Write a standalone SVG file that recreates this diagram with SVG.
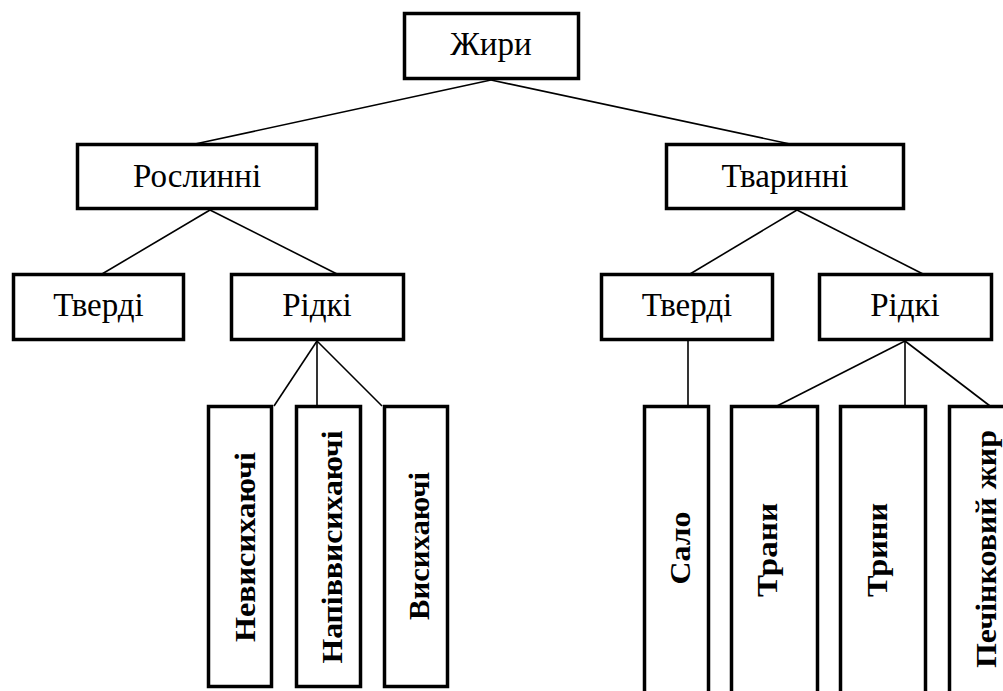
<svg xmlns="http://www.w3.org/2000/svg" width="1003" height="691" viewBox="0 0 1003 691">
<style>
.box{fill:#fff;stroke:#000;stroke-width:3.5}
.lbl{font-size:33px;fill:#000;text-anchor:middle}
.vl{font-size:30px;font-weight:bold;fill:#000;text-anchor:middle}
#connectors line{stroke:#000;stroke-width:1.6}
</style>
<rect width="1003" height="691" fill="#fff"/>
<g id="connectors">
<line x1="491" y1="80" x2="195" y2="144"/>
<line x1="491" y1="80" x2="790" y2="144"/>
<line x1="210" y1="210" x2="102" y2="274"/>
<line x1="210" y1="210" x2="337" y2="274"/>
<line x1="797" y1="210" x2="690" y2="274"/>
<line x1="797" y1="210" x2="923" y2="274"/>
<line x1="317" y1="341" x2="274" y2="406"/>
<line x1="317" y1="341" x2="317" y2="406"/>
<line x1="317" y1="341" x2="382" y2="406"/>
<line x1="688" y1="341" x2="688" y2="406"/>
<line x1="905" y1="341" x2="777" y2="406"/>
<line x1="905" y1="341" x2="905" y2="406"/>
<line x1="905" y1="341" x2="990" y2="406"/>
</g>
<g font-family="Liberation Serif, DejaVu Serif, serif">
<g id="zhyry"><rect class="box" x="404.5" y="13.5" width="174" height="65"/><text class="lbl" x="491" y="55">Жири</text></g>
<g id="roslynni"><rect class="box" x="77.5" y="144.5" width="239" height="64"/><text class="lbl" x="197" y="187">Рослинні</text></g>
<g id="tvarynni"><rect class="box" x="666.5" y="144.5" width="237" height="64"/><text class="lbl" x="785" y="187">Тваринні</text></g>
<g id="tverdi-r"><rect class="box" x="13.5" y="274.5" width="170" height="65"/><text class="lbl" x="98.5" y="316">Тверді</text></g>
<g id="ridki-r"><rect class="box" x="231.5" y="274.5" width="172" height="65"/><text class="lbl" x="317" y="316">Рідкі</text></g>
<g id="tverdi-t"><rect class="box" x="601.5" y="274.5" width="171" height="65"/><text class="lbl" x="687" y="316">Тверді</text></g>
<g id="ridki-t"><rect class="box" x="819.5" y="274.5" width="172" height="65"/><text class="lbl" x="905" y="316">Рідкі</text></g>
<g id="nevysykhaiuchi"><rect class="box" x="208.5" y="406.5" width="63" height="280"/><text class="vl" transform="translate(255 547) rotate(-90)" textLength="190" lengthAdjust="spacingAndGlyphs">Невисихаючі</text></g>
<g id="napivvysykhaiuchi"><rect class="box" x="296.5" y="406.5" width="64" height="280"/><text class="vl" transform="translate(342 547) rotate(-90)" textLength="233" lengthAdjust="spacingAndGlyphs">Напіввисихаючі</text></g>
<g id="vysykhaiuchi"><rect class="box" x="384.5" y="406.5" width="63" height="280"/><text class="vl" transform="translate(429 546) rotate(-90)" textLength="148" lengthAdjust="spacingAndGlyphs">Висихаючі</text></g>
<g id="salo"><rect class="box" x="644.5" y="406.5" width="64" height="300"/><text class="vl" transform="translate(690 548) rotate(-90)" textLength="73" lengthAdjust="spacingAndGlyphs">Сало</text></g>
<g id="trany"><rect class="box" x="731.5" y="406.5" width="86" height="300"/><text class="vl" transform="translate(777 550) rotate(-90)" textLength="94" lengthAdjust="spacingAndGlyphs">Трани</text></g>
<g id="tryny"><rect class="box" x="840.5" y="406.5" width="85" height="300"/><text class="vl" transform="translate(887 550) rotate(-90)" textLength="94" lengthAdjust="spacingAndGlyphs">Трини</text></g>
<g id="pechinkovyi"><rect class="box" x="949.5" y="406.5" width="80" height="300"/><text class="vl" transform="translate(996 549) rotate(-90)" textLength="238" lengthAdjust="spacingAndGlyphs">Печінковий жир</text></g>
</g>
</svg>
